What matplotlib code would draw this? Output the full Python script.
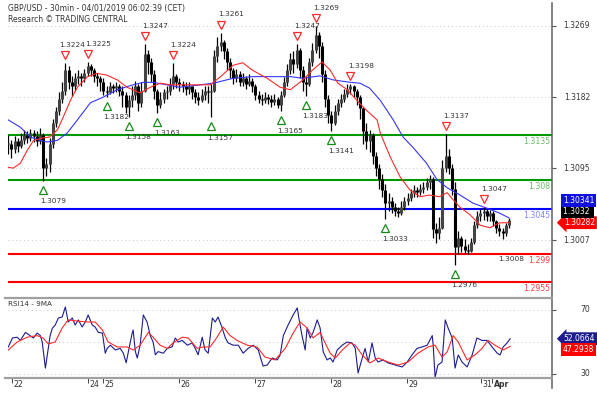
import numpy as np
import matplotlib
matplotlib.use("Agg")
import matplotlib.pyplot as plt
from matplotlib.lines import Line2D
from matplotlib import transforms

plt.rcParams['font.family'] = ['DejaVu Sans']

# ---------------- data (hourly bars, index = hours since start) ----------------
closes = [1.3125, 1.3118, 1.3128, 1.3122, 1.3130, 1.3135, 1.3132, 1.3138, 1.3134, 1.3128,
          1.3135, 1.3095, 1.3100, 1.3125, 1.3150, 1.3165, 1.3180, 1.3190, 1.3215, 1.3200,
          1.3195, 1.3205, 1.3208, 1.3205, 1.3212, 1.3220, 1.3215, 1.3208, 1.3205, 1.3200,
          1.3190, 1.3188, 1.3195, 1.3193, 1.3195, 1.3190, 1.3185, 1.3170, 1.3178, 1.3185,
          1.3195, 1.3175, 1.3190, 1.3235, 1.3225, 1.3210, 1.3190, 1.3172, 1.3180, 1.3188,
          1.3190, 1.3198, 1.3208, 1.3200, 1.3198, 1.3195, 1.3192, 1.3195, 1.3188, 1.3182,
          1.3178, 1.3185, 1.3190, 1.3188, 1.3190, 1.3232, 1.3245, 1.3250, 1.3238, 1.3225,
          1.3215, 1.3205, 1.3210, 1.3200, 1.3205, 1.3198, 1.3202, 1.3195, 1.3185, 1.3180,
          1.3178, 1.3182, 1.3180, 1.3176, 1.3180, 1.3172, 1.3185, 1.3200, 1.3215, 1.3228,
          1.3222, 1.3240, 1.3215, 1.3200, 1.3198, 1.3225, 1.3240, 1.3258, 1.3245, 1.3210,
          1.3180, 1.3160, 1.3150, 1.3165, 1.3175, 1.3180, 1.3186, 1.3192, 1.3195, 1.3190,
          1.3182, 1.3168, 1.3140, 1.3128, 1.3135, 1.3110, 1.3095, 1.3082, 1.3068, 1.3052,
          1.3055, 1.3048, 1.3043, 1.3040, 1.3048, 1.3055, 1.3058, 1.3065, 1.3068, 1.3066,
          1.3070, 1.3072, 1.3078, 1.3082, 1.3020, 1.3015, 1.3022, 1.3095, 1.3110, 1.3095,
          1.3070, 1.2998, 1.3010, 1.3000, 1.2995, 1.2993, 1.3005, 1.3025, 1.3036, 1.3040,
          1.3042, 1.3036, 1.3040, 1.3030, 1.3022, 1.3018, 1.3015, 1.3025, 1.3032]
highs = [1.3135, 1.3130, 1.3134, 1.3132, 1.3138, 1.3142, 1.3140, 1.3143, 1.3142, 1.3140,
         1.3144, 1.3138, 1.3108, 1.3132, 1.3155, 1.3170, 1.3188, 1.3200, 1.3224, 1.3220,
         1.3208, 1.3212, 1.3215, 1.3212, 1.3216, 1.3225, 1.3222, 1.3218, 1.3212, 1.3208,
         1.3205, 1.3196, 1.3200, 1.3198, 1.3200, 1.3198, 1.3195, 1.3188, 1.3185, 1.3195,
         1.3202, 1.3198, 1.3200, 1.3247, 1.3240, 1.3230, 1.3215, 1.3192, 1.3188, 1.3192,
         1.3196, 1.3205, 1.3224, 1.3210, 1.3205, 1.3202, 1.3200, 1.3200, 1.3196, 1.3192,
         1.3188, 1.3192, 1.3196, 1.3195, 1.3198, 1.3240, 1.3255, 1.3261, 1.3252, 1.3242,
         1.3230, 1.3218, 1.3216, 1.3214, 1.3212, 1.3208, 1.3210, 1.3205, 1.3198, 1.3190,
         1.3186, 1.3188, 1.3186, 1.3184, 1.3186, 1.3182, 1.3190, 1.3206, 1.3222, 1.3236,
         1.3238, 1.3247, 1.3242, 1.3220, 1.3208, 1.3230, 1.3248, 1.3269, 1.3262, 1.3250,
         1.3215, 1.3185, 1.3165, 1.3172, 1.3180, 1.3186, 1.3192, 1.3198, 1.3198, 1.3197,
         1.3192, 1.3185, 1.3170, 1.3150, 1.3142, 1.3138, 1.3115, 1.3100, 1.3088, 1.3075,
         1.3065, 1.3060, 1.3052, 1.3048, 1.3055, 1.3060, 1.3064, 1.3070, 1.3074, 1.3072,
         1.3076, 1.3078, 1.3083, 1.3086, 1.3084, 1.3028, 1.3035, 1.3105, 1.3137, 1.3118,
         1.3100, 1.3078, 1.3018, 1.3012, 1.3008, 1.3002, 1.3010, 1.3030, 1.3042, 1.3045,
         1.3047, 1.3045, 1.3044, 1.3042, 1.3032, 1.3026, 1.3022, 1.3028, 1.3034]
lows = [1.3112, 1.3108, 1.3114, 1.3115, 1.3120, 1.3125, 1.3126, 1.3128, 1.3127, 1.3122,
        1.3125, 1.3079, 1.3085, 1.3090, 1.3120, 1.3145, 1.3160, 1.3175, 1.3185, 1.3192,
        1.3183, 1.3190, 1.3198, 1.3195, 1.3200, 1.3208, 1.3208, 1.3200, 1.3196, 1.3190,
        1.3185, 1.3182, 1.3186, 1.3187, 1.3188, 1.3183, 1.3170, 1.3162, 1.3158, 1.3170,
        1.3178, 1.3165, 1.3170, 1.3188, 1.3210, 1.3200, 1.3180, 1.3163, 1.3168, 1.3175,
        1.3180, 1.3185, 1.3192, 1.3193, 1.3190, 1.3188, 1.3185, 1.3186, 1.3180, 1.3175,
        1.3172, 1.3176, 1.3178, 1.3175, 1.3157, 1.3188, 1.3225, 1.3238, 1.3228, 1.3215,
        1.3205, 1.3198, 1.3200, 1.3195, 1.3196, 1.3192, 1.3195, 1.3188, 1.3178, 1.3175,
        1.3172, 1.3175, 1.3174, 1.3170, 1.3172, 1.3168, 1.3165, 1.3182, 1.3196, 1.3210,
        1.3212, 1.3218, 1.3205, 1.3190, 1.3183, 1.3195, 1.3220, 1.3236, 1.3230, 1.3200,
        1.3170, 1.3150, 1.3141, 1.3148, 1.3160, 1.3170, 1.3176, 1.3182, 1.3186, 1.3182,
        1.3172, 1.3155, 1.3125, 1.3118, 1.3115, 1.3100, 1.3085, 1.3070, 1.3060, 1.3033,
        1.3042, 1.3040, 1.3036, 1.3035, 1.3038, 1.3044, 1.3050, 1.3055, 1.3060, 1.3060,
        1.3062, 1.3065, 1.3068, 1.3070, 1.3010, 1.3003, 1.3008, 1.3020, 1.3090, 1.3088,
        1.3062, 1.2976, 1.2990, 1.2992, 1.2990, 1.2990, 1.2992, 1.3002, 1.3022, 1.3030,
        1.3032, 1.3030, 1.3030, 1.3024, 1.3015, 1.3012, 1.3008, 1.3012, 1.3022]

ma_red_t = [0, 1.6, 3.8, 6, 8, 11, 13, 15.5, 17.4, 19.6, 21.8, 25, 28, 31, 34.4, 37.5, 41.6,
            44.8, 48, 51, 56.5, 60.6, 63.7, 67, 71, 74, 77, 81.7, 85.8, 89, 93, 96, 99,
            101.6, 104, 107, 110, 113, 116.4, 117.4, 120.5, 123.7, 126.8, 130, 133, 136,
            138.5, 140, 142.6, 145.7, 149, 152, 155, 158]
ma_red_v = [1.3096, 1.3095, 1.3101, 1.3117, 1.3129, 1.3132, 1.3133, 1.3142, 1.3158, 1.3178,
            1.3194, 1.3207, 1.3211, 1.3209, 1.3203, 1.3194, 1.3187, 1.3194, 1.3199, 1.3197,
            1.3197, 1.3197, 1.3197, 1.3207, 1.3221, 1.3224, 1.3215, 1.3205, 1.3194, 1.3191,
            1.3203, 1.3215, 1.3225, 1.3215, 1.3199, 1.3191, 1.3178, 1.3166, 1.3154, 1.3138,
            1.3109, 1.3084, 1.3068, 1.3060, 1.3062, 1.3060, 1.3065, 1.3058, 1.3047, 1.3038,
            1.3025, 1.3022, 1.3028, 1.30282]
ma_blue_t = [0, 3.8, 7, 10, 12.3, 15.5, 18.6, 21.8, 25.9, 30, 34.4, 38.5, 42.6, 45.7, 50, 54,
             60.6, 64.7, 71, 77, 83.6, 89, 93, 98.4, 102.5, 108, 111, 114, 117.4, 121.5,
             124.6, 127.8, 132, 135.3, 138.5, 142.6, 146.7, 151, 155, 158]
ma_blue_v = [1.3154, 1.3145, 1.3133, 1.3129, 1.3127, 1.3129, 1.3138, 1.3154, 1.3175, 1.3182,
             1.3191, 1.3196, 1.3200, 1.3200, 1.3197, 1.3194, 1.3197, 1.3199, 1.3205, 1.3207,
             1.3207, 1.3207, 1.3205, 1.3208, 1.3203, 1.3200, 1.3199, 1.3193, 1.3178, 1.3154,
             1.3133, 1.3120, 1.3101, 1.3081, 1.3071, 1.3062, 1.3052, 1.3046, 1.3040, 1.30341]

rsi_t = [0, 1.3, 2.8, 3.8, 5.4, 6.9, 7.9, 9.1, 10.1, 10.7, 11.7, 12.3, 13.2, 13.9, 14.8, 15.8,
         17, 18, 18.9, 20.2, 21.1, 22.1, 23.3, 24.3, 25.2, 26.5, 27.4, 28.4, 29.7, 30.6, 31.2,
         32.2, 33.8, 35.3, 36.3, 37.2, 37.9, 39.1, 39.4, 40.1, 40.7, 41.6, 42.6, 43.8, 44.8,
         45.7, 46.4, 47.3, 48.9, 50.2, 51.7, 52.7, 53.6, 54.9, 56.5, 58, 59, 59.9, 61.2, 62.1,
         63.1, 64.4, 65.3, 66.2, 67.5, 68.5, 69.4, 71, 72.6, 74.1, 75.7, 77.3, 78.9, 80.4,
         81.7, 83.3, 84.9, 85.8, 86.8, 88.3, 89.9, 91.2, 91.8, 92.7, 93.7, 94.3, 95.3, 96.2,
         97.5, 98.4, 99.4, 100.6, 101.6, 102.5, 103.8, 105.4, 106.9, 108.5, 109.5, 110.4,
         111.7, 112.6, 113.6, 114.8, 115.8, 116.7, 118.3, 119.9, 122.1, 124.3, 125.9, 127.4,
         129, 130.6, 132.2, 133.8, 134.1, 134.7, 135.6, 136.9, 137.9, 138.8, 140.1, 141, 142,
         143.2, 144.8, 146.4, 147.9, 149.5, 151.1, 152.7, 154.3, 155.2, 156.2, 157.4, 158.4]
rsi_v = [46.9, 52.5, 53, 51, 56, 54, 52.5, 55.6, 54, 50, 33.7, 42, 54, 58.6, 60.6, 65,
         65.6, 71.9, 62.5, 65, 60.6, 63.8, 59.4, 62.5, 66.9, 60.6, 59.4, 56, 55.6, 43, 46,
         48, 45, 46, 43, 37, 44, 55.6, 57.5, 44, 40, 48, 66.9, 62.5, 54,
         50, 42, 44, 43, 46, 47, 52.5, 50, 51, 48, 49.4, 46, 42, 53, 45,
         43, 65, 62.5, 65.6, 58.8, 52.5, 49.4, 48, 48, 43, 46, 48, 45, 35,
         35.6, 40, 38.8, 41.9, 54, 60.6, 66.9, 71.3, 63.8, 54, 45, 58.8, 52.5, 56,
         63.8, 58.8, 43.8, 38.8, 40, 37.5, 45, 48, 50, 49.4, 46, 30.6,
         40, 46, 37.5, 49.4, 40, 37.5, 38.8, 36.9, 35.6, 34.4, 37.5, 41.9,
         46, 46.9, 48, 54, 48, 28, 35.6, 37.5, 63.8, 58.8, 52.5, 33.7, 41.9,
         37.5, 34.4, 41.9, 52.5, 51, 51, 46.9, 43, 41.9, 46.9, 49.4, 52.0664]
rsi_ma_t = [0, 2.8, 6, 9.1, 11, 12.6, 14.8, 17, 18.9, 22.1, 25.2, 27.4, 29.7, 31.5, 34.4, 37.5,
            39.4, 41.6, 44.2, 45.7, 47.9, 50.2, 52, 54.9, 56.8, 59.6, 61.5, 63.7, 65.9, 67.8,
            70, 72.2, 75.4, 78.5, 81, 84.2, 87.4, 89.9, 92.1, 94.3, 96.2, 98.4, 100, 101.6,
            103.2, 105.4, 107.9, 109.5, 111.7, 114.2, 116.7, 119.9, 123, 126.2, 129.3, 132.5,
            134.7, 136.9, 138.5, 140.4, 142, 144.8, 147.3, 149.5, 151.4, 153.6, 156.2, 158.4]
rsi_ma_v = [45, 50, 53, 54, 52.5, 48.8, 50, 58.8, 63.8, 63, 62.5, 62.5, 57.5, 50, 46.9, 46.9,
            45, 48, 56, 53, 48, 46, 49.4, 53, 52.5, 46, 46.9, 46.9, 53, 59.4,
            54, 51, 48, 46.9, 40.6, 38.8, 46, 55.6, 62.5, 58.8, 52.5, 56, 49.4, 43,
            40, 45, 49.4, 48, 41.9, 36.9, 40, 37.5, 35.6, 37.5, 43, 46.9,
            48, 40.6, 43.8, 54, 50, 38.8, 41.9, 46, 51, 48, 45, 47.2938]

level_green = [1.3135, 1.308]
level_blue = [1.3045]
level_red = [1.299, 1.2955]

peak_idx = [18, 25, 43, 52, 67, 91, 97, 108, 138, 150]
peak_val = [1.3224, 1.3225, 1.3247, 1.3224, 1.3261, 1.3247, 1.3269, 1.3198, 1.3137, 1.3047]
trough_idx = [11, 31, 38, 47, 64, 86, 94, 102, 119, 141]
trough_val = [1.3079, 1.3182, 1.3158, 1.3163, 1.3157, 1.3165, 1.3183, 1.3141, 1.3033, 1.2976]
pending_low_idx = 156
pending_low_val = 1.3008

price_ticks = [1.3269, 1.3182, 1.3095, 1.3007]
rsi_ticks = [70, 30]
day_pos = [1.3, 25.2, 30, 54, 77.9, 101.9, 125.9, 149.2, 152.7]
day_lab = ['22', '24', '25', '26', '27', '28', '29', '31', 'Apr']

last_close = 1.3032
last_blue = 1.30341
last_red = 1.30282
last_rsi = 52.0664
last_rsi_ma = 47.2938

# ---------------- layout ----------------
W, H = 597, 396
fig = plt.figure(figsize=(W / 100, H / 100), dpi=100)
def fx(p): return p / W
def fy(p): return 1 - p / H

ax = fig.add_axes([fx(8), fy(297), fx(552) - fx(8), fy(3) - fy(297)])
axr = fig.add_axes([fx(8), fy(378), fx(552) - fx(8), fy(297) - fy(378)])

scale = 8168.0
ax.set_ylim(1.3269 - 271 / scale, 1.3269 + 23 / scale)
axr.set_ylim(30 - 4 / 1.6, 70 + 13 / 1.6)
for a in (ax, axr):
    a.set_xlim(-0.1, 171.6)
    for s in a.spines.values():
        s.set_visible(False)
    a.set_xticks([])
    a.patch.set_alpha(0)

TXT = '#333333'
FS = 5.3

# grid
for v in price_ticks:
    ax.axhline(v, color='#c8c8c8', lw=0.7, ls=(0, (1, 3)))
for v in [70, 50, 30]:
    axr.axhline(v, color='#c8c8c8', lw=0.7, ls=(0, (1, 3)))

# levels
for v in level_green:
    ax.axhline(v, color='#009900', lw=1.5, zorder=2)
for v in level_blue:
    ax.axhline(v, color='#0000ff', lw=1.5, zorder=2)
for v in level_red:
    ax.axhline(v, color='#ff0000', lw=1.5, zorder=2)

level_cols = [('#66bb66', level_green), ('#8080ff', level_blue), ('#ff4040', level_red)]
for col, vals in level_cols:
    for v in vals:
        ax.annotate(f"{v:g}", xy=(1, v), xycoords=('axes fraction', 'data'),
                    xytext=(-1.5, -4.5), textcoords='offset points',
                    ha='right', va='center', fontsize=FS + 0.3, color=col)

# candles
idx = np.arange(len(closes))
opens = [closes[0]] + closes[:-1]
ax.vlines(idx, lows, highs, color='black', lw=0.9, zorder=3)
bot = np.minimum(opens, closes)
top = np.maximum(opens, closes)
top = np.where(top - bot < 0.0001, bot + 0.0001, top)
up = np.array(closes) >= np.array(opens)
ax.vlines(idx[up], bot[up], top[up], color='#444444', lw=2.2, zorder=3)
ax.vlines(idx[~up], bot[~up], top[~up], color='black', lw=2.2, zorder=3)

# MAs
ax.plot(ma_blue_t, ma_blue_v, color='#3535ff', lw=0.8, zorder=4)
ax.plot(ma_red_t, ma_red_v, color='#ff2a2a', lw=0.8, zorder=4)

# pivots
up_off = transforms.offset_copy(ax.transData, fig=fig, x=0, y=8, units='dots')
dn_off = transforms.offset_copy(ax.transData, fig=fig, x=0, y=-9, units='dots')
ax.plot(peak_idx, peak_val, ls='none', marker='v', ms=5.5, mfc='white', mec='#ff2a2a',
        mew=0.9, transform=up_off, zorder=5, clip_on=False)
ax.plot(trough_idx, trough_val, ls='none', marker='^', ms=5.5, mfc='white', mec='#1a8a1a',
        mew=0.9, transform=dn_off, zorder=5, clip_on=False)
for k, (i, v) in enumerate(zip(peak_idx, peak_val)):
    # first two labels sit side by side; nudge the first one left a bit
    dx = -4.5 if k == 0 else -2.0
    ax.annotate(f"{v:.4f}", xy=(i, v), xytext=(dx, 13), textcoords='offset points',
                ha='left', va='center', fontsize=FS, color=TXT, zorder=6)
for i, v in zip(trough_idx, trough_val):
    ax.annotate(f"{v:.4f}", xy=(i, v), xytext=(-2.5, -14.5), textcoords='offset points',
                ha='left', va='center', fontsize=FS, color=TXT, zorder=6)
ax.annotate(f"{pending_low_val:.4f}", xy=(pending_low_idx, pending_low_val),
            xytext=(-3, -14.5), textcoords='offset points',
            ha='left', va='center', fontsize=FS, color=TXT, zorder=6)

# title
fig.text(fx(8), fy(8), "GBP/USD - 30min - 04/01/2019 06:02:39 (CET)", fontsize=5.5,
         color=TXT, ha='left', va='center')
fig.text(fx(8), fy(20), "Research \u00a9 TRADING CENTRAL", fontsize=5.5,
         color=TXT, ha='left', va='center')

# RSI
axr.plot(rsi_t, rsi_v, color='#1c1c90', lw=0.8, zorder=3)
axr.plot(rsi_ma_t, rsi_ma_v, color='#ff2a2a', lw=0.8, zorder=3)
fig.text(fx(8), fy(304), "RSI14 - 9MA", fontsize=5.2, color=TXT, ha='left', va='center')

# right axis ticks & labels
for a, ticks, fmt in ((ax, price_ticks, "{:.4f}"), (axr, rsi_ticks, "{:d}")):
    a.yaxis.tick_right()
    a.set_yticks(ticks)
    a.set_yticklabels([])
    a.tick_params(axis='y', direction='out', length=3, width=0.8, color='#555555')
    for v in ticks:
        a.annotate(fmt.format(v), xy=(1, v), xycoords=('axes fraction', 'data'),
                   xytext=(27.5, 0), textcoords='offset points', ha='right',
                   va='center', fontsize=FS + 0.2, color=TXT)

# date ticks
axr.set_xticks(day_pos)
axr.set_xticklabels([])
axr.tick_params(axis='x', direction='out', length=3.5, width=0.7, color='#444444')
for p, lab in zip(day_pos, day_lab):
    axr.annotate(lab, xy=(p, 0), xycoords=('data', 'axes fraction'),
                 xytext=(1.0, -1.5), textcoords='offset points', ha='left', va='top',
                 fontsize=FS + 0.3, color=TXT,
                 fontweight='bold' if lab == 'Apr' else 'normal')

# value boxes
def box(a, v, dy, text, fc, arrow=False):
    style = 'larrow,pad=0.25' if arrow else 'square,pad=0.25'
    a.annotate(text, xy=(1, v), xycoords=('axes fraction', 'data'),
               xytext=(8 if not arrow else 8.5, dy), textcoords='offset points',
               ha='left', va='center', fontsize=FS + 0.2, color='white',
               bbox=dict(boxstyle=style, fc=fc, ec='none'), annotation_clip=False)

box(ax, last_red, 0, f"{last_red:.5f}", '#ff0000', arrow=True)
box(ax, last_red, 8, f"{last_close:.4f} ", '#000000')
box(ax, last_red, 16, f"{last_blue:.5f}", '#1010e0')
box(axr, last_rsi, 0, f"{last_rsi:.4f}", '#1c1c90', arrow=True)
box(axr, last_rsi, -8, f"{last_rsi_ma:.4f}", '#ff0000')

# frame lines
fig.add_artist(Line2D([fx(552), fx(552)], [fy(3), fy(388)], color='#606060', lw=1.1))
fig.add_artist(Line2D([fx(5), fx(552)], [fy(297.5), fy(297.5)], color='#a0a0a0', lw=1.6))
fig.add_artist(Line2D([fx(5), fx(552)], [fy(378), fy(378)], color='#a0a0a0', lw=1.6))

fig.savefig("out.png", dpi=100)
